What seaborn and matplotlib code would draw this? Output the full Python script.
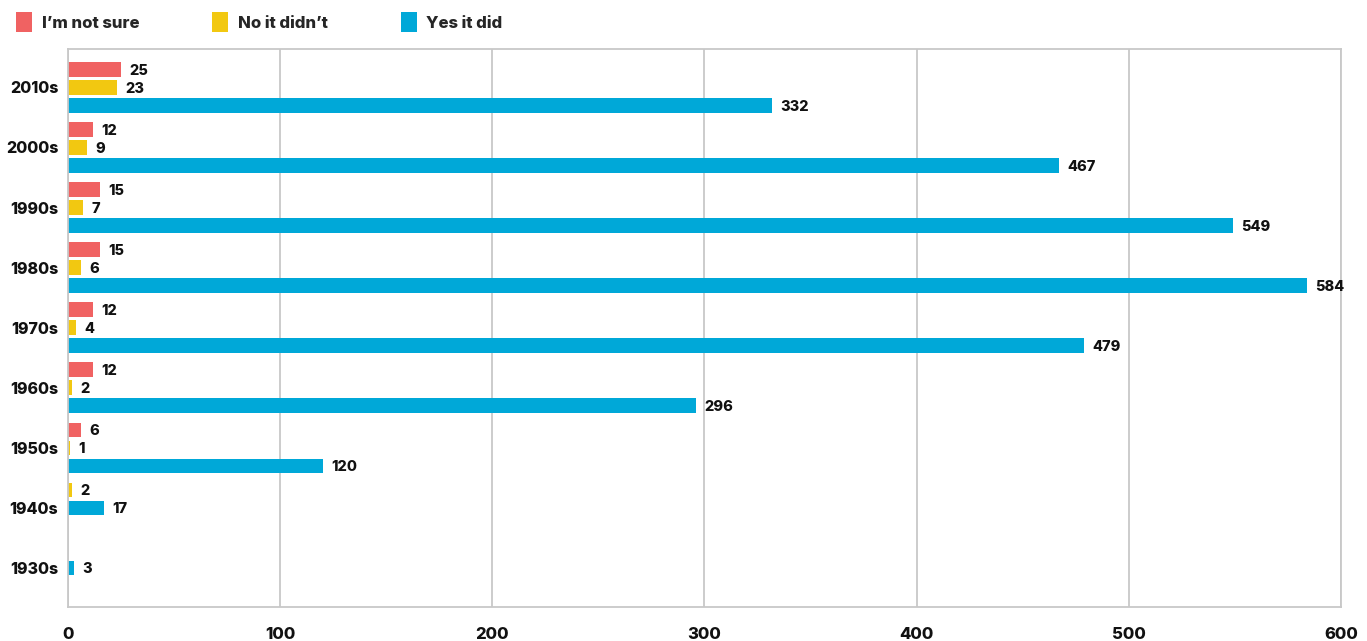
import numpy as np
import pandas as pd
import matplotlib.pyplot as plt
import seaborn as sns

# ---- data ----
decades = ["2010s", "2000s", "1990s", "1980s", "1970s", "1960s", "1950s", "1940s", "1930s"]
responses = ["I’m not sure", "No it didn’t", "Yes it did"]
not_sure = [25, 12, 15, 15, 12, 12, 6, 0, 0]
no_it_didnt = [23, 9, 7, 6, 4, 2, 1, 2, 0]
yes_it_did = [332, 467, 549, 584, 479, 296, 120, 17, 3]
x_ticks = [0, 100, 200, 300, 400, 500, 600]
colors = ["#F06262", "#F2C811", "#00A8D8"]

df = pd.DataFrame({
    "decade": decades * 3,
    "response": np.repeat(responses, len(decades)),
    "count": not_sure + no_it_didnt + yes_it_did,
})

sns.set_theme(style="white")
plt.rcParams["font.family"] = ["Inter", "DejaVu Sans"]
WEIGHT = 800

fig, ax = plt.subplots(figsize=(13.67, 6.41), dpi=100)
fig.subplots_adjust(left=0.0497, right=0.981, top=0.9236, bottom=0.0523)

sns.barplot(data=df, x="count", y="decade", hue="response", order=decades,
            hue_order=responses, palette=colors, saturation=1, width=0.9,
            gap=0.2, orient="h", linewidth=0, ax=ax)

# empty series are dropped and the remaining bars close up inside the group
slot = 0.9 / len(responses)
series = [not_sure, no_it_didnt, yes_it_did]
for i in range(len(decades)):
    present = [j for j in range(len(series)) if series[j][i] > 0]
    start = (len(responses) - len(present)) // 2
    for k, j in enumerate(present):
        bar = ax.containers[j][i]
        h = bar.get_height()
        bar.set_y(i + (start + k - 1) * slot - h / 2)
        ax.annotate(str(series[j][i]), (bar.get_width(), bar.get_y() + h / 2),
                    xytext=(6, 0), textcoords="offset points",
                    va="center_baseline", ha="left", fontsize=10.5,
                    fontweight=WEIGHT, color="#111111")

ax.set_xlim(0, 600)
ax.set_ylim(8.66, -0.64)
ax.set_xticks(x_ticks)
ax.set_xlabel("")
ax.set_ylabel("")
ax.xaxis.grid(True, color="#c8c8c8", linewidth=1.3)
ax.set_axisbelow(True)
for s in ax.spines.values():
    s.set_color("#c8c8c8")
    s.set_linewidth(1.3)
ax.tick_params(axis="x", length=0, pad=14, labelsize=12, labelcolor="#111111")
ax.tick_params(axis="y", length=0, pad=7, labelsize=11.5, labelcolor="#111111")
for t in ax.get_xticklabels() + ax.get_yticklabels():
    t.set_fontweight(WEIGHT)

handles, labels = ax.get_legend_handles_labels()
ax.get_legend().remove()
fig.legend(handles, labels, loc="center left", bbox_to_anchor=(8 / 1367, 1 - 22 / 641),
           ncol=3, frameon=False, borderpad=0, handlelength=0.96, handleheight=1.45,
           handletextpad=0.55, columnspacing=4.4,
           prop={"weight": WEIGHT, "size": 12})

plt.savefig("out.png", dpi=100)
